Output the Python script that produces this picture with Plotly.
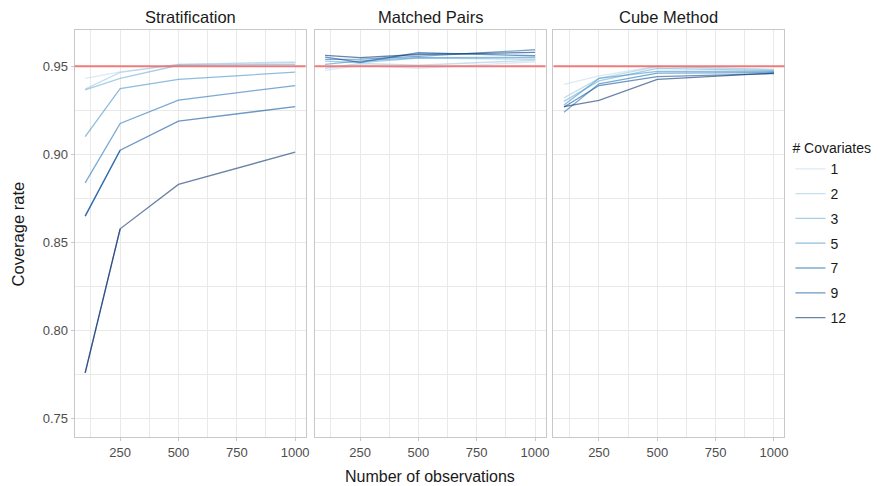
import plotly.graph_objects as go

n_obs = [100, 250, 500, 1000]
covariates = ["1", "2", "3", "5", "7", "9", "12"]
methods = ["Stratification", "Matched Pairs", "Cube Method"]

# coverage rate per covariate count (rows follow `covariates`)
stratification = [
    [0.9430, 0.9468, 0.9510, 0.9525],
    [0.9370, 0.9465, 0.9510, 0.9520],
    [0.9365, 0.9430, 0.9505, 0.9510],
    [0.9100, 0.9373, 0.9425, 0.9466],
    [0.8838, 0.9175, 0.9307, 0.9390],
    [0.8649, 0.9023, 0.9188, 0.9270],
    [0.7760, 0.8577, 0.8829, 0.9012],
]
matched_pairs = [
    [0.9476, 0.9505, 0.9488, 0.9525],
    [0.9487, 0.9515, 0.9505, 0.9534],
    [0.9528, 0.9520, 0.9545, 0.9540],
    [0.9510, 0.9530, 0.9548, 0.9550],
    [0.9538, 0.9540, 0.9555, 0.9593],
    [0.9551, 0.9522, 0.9576, 0.9559],
    [0.9561, 0.9548, 0.9566, 0.9578],
]
cube_method = [
    [0.9397, 0.9445, 0.9500, 0.9483],
    [0.9320, 0.9430, 0.9498, 0.9480],
    [0.9300, 0.9416, 0.9487, 0.9475],
    [0.9280, 0.9430, 0.9470, 0.9470],
    [0.9238, 0.9400, 0.9460, 0.9464],
    [0.9268, 0.9390, 0.9440, 0.9458],
    [0.9270, 0.9306, 0.9425, 0.9460],
]
target_rate = 0.95

x_ticks = [250, 500, 750, 1000]
x_minor = [125, 375, 625, 875]
y_ticks = [0.75, 0.80, 0.85, 0.90, 0.95]
y_tick_text = ["0.75", "0.80", "0.85", "0.90", "0.95"]
y_minor = [0.775, 0.825, 0.875, 0.925]

line_colors = [
    "rgba(198,219,239,0.6)",
    "rgba(158,202,225,0.6)",
    "rgba(107,174,214,0.6)",
    "rgba(66,146,198,0.6)",
    "rgba(33,113,181,0.6)",
    "rgba(8,81,156,0.6)",
    "rgba(8,48,107,0.6)",
]

W, H = 888, 486
panels_px = [(75, 307), (316, 548), (556, 788)]
top_px, bot_px = 30, 437

FONT = "Liberation Sans, Arial, Helvetica, sans-serif"
GRID = "#e9e9e9"
BORDER = "#c8c8c8"

fig = go.Figure()
data_sets = [stratification, matched_pairs, cube_method]
for p, ds in enumerate(data_sets):
    xa = "x" if p == 0 else f"x{p+1}"
    ya = "y" if p == 0 else f"y{p+1}"
    for i, cov in enumerate(covariates):
        fig.add_trace(go.Scatter(
            x=n_obs, y=ds[i], mode="lines", name=cov,
            legendgroup=cov, showlegend=(p == 0),
            line=dict(color=line_colors[i], width=1.3),
            xaxis=xa, yaxis=ya, hoverinfo="skip"))
    # the steepest first segments appear darker (overplotted) in the original
    if p == 0:
        for i in (5, 6):
            fig.add_trace(go.Scatter(
                x=n_obs[:2], y=ds[i][:2], mode="lines", legendgroup=covariates[i],
                showlegend=False, line=dict(color=line_colors[i], width=1.3),
                xaxis=xa, yaxis=ya, hoverinfo="skip"))

layout = dict(
    width=W, height=H,
    margin=dict(l=0, r=0, t=0, b=0),
    paper_bgcolor="white", plot_bgcolor="white",
    font=dict(family=FONT, color="#1a1a1a"),
    showlegend=True,
    legend=dict(
        title=dict(text="# Covariates", font=dict(size=14, color="#1a1a1a")),
        font=dict(size=14, color="#1a1a1a"),
        x=794 / W, xanchor="left", y=1 - 135 / H, yanchor="top",
        tracegroupgap=3.6, bgcolor="rgba(0,0,0,0)", itemwidth=30,
    ),
)
annotations = []
shapes = []
for p, (x0, x1) in enumerate(panels_px):
    sfx = "" if p == 0 else str(p + 1)
    layout["xaxis" + sfx] = dict(
        domain=[x0 / W, x1 / W], range=[55, 1045],
        tickvals=x_ticks, ticktext=[str(v) for v in x_ticks],
        tickfont=dict(size=13, color="#4d4d4d"),
        ticks="outside", ticklen=3, tickcolor=BORDER,
        showgrid=True, gridcolor=GRID, gridwidth=1,
        minor=dict(tickvals=x_minor, showgrid=True, gridcolor=GRID, gridwidth=1),
        showline=True, mirror=True, linecolor=BORDER, linewidth=1,
        zeroline=False, anchor="y" + sfx, fixedrange=True,
    )
    layout["yaxis" + sfx] = dict(
        domain=[1 - bot_px / H, 1 - top_px / H], range=[0.7396, 0.9705],
        tickvals=y_ticks, ticktext=y_tick_text,
        showticklabels=(p == 0),
        tickfont=dict(size=13, color="#4d4d4d"),
        ticks="outside" if p == 0 else "", ticklen=3, tickcolor=BORDER,
        showgrid=True, gridcolor=GRID, gridwidth=1,
        minor=dict(tickvals=y_minor, showgrid=True, gridcolor=GRID, gridwidth=1),
        showline=True, mirror=True, linecolor=BORDER, linewidth=1,
        zeroline=False, anchor="x" + sfx, fixedrange=True,
    )
    annotations.append(dict(
        text=methods[p], x=(x0 + x1) / 2 / W, y=1 - 17 / H,
        xref="paper", yref="paper", xanchor="center", yanchor="middle",
        showarrow=False, font=dict(size=16.5, color="#1a1a1a")))
    shapes.append(dict(
        type="line", xref=f"x{sfx} domain", yref="y" + sfx,
        x0=0, x1=1, y0=target_rate, y1=target_rate,
        line=dict(color="rgba(240,110,110,0.9)", width=2), layer="above"))

annotations.append(dict(
    text="Number of observations", x=431.5 / W, y=1 - 476.5 / H,
    xref="paper", yref="paper", xanchor="center", yanchor="middle",
    showarrow=False, font=dict(size=16, color="#1a1a1a")))
annotations.append(dict(
    text="Coverage rate", x=18 / W, y=1 - 233.5 / H, textangle=-90,
    xref="paper", yref="paper", xanchor="center", yanchor="middle",
    showarrow=False, font=dict(size=16.5, color="#1a1a1a")))
layout["annotations"] = annotations
layout["shapes"] = shapes

fig.update_layout(**layout)
fig.write_html("out.html")
